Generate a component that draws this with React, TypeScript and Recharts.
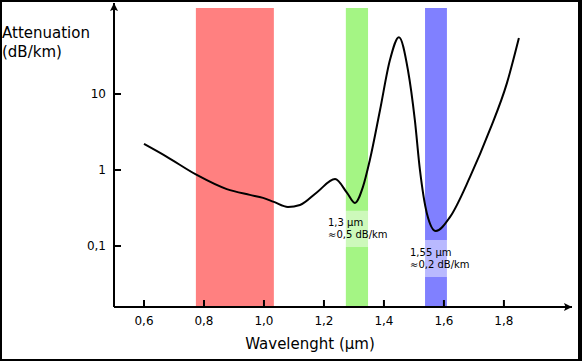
import { ComposedChart, Line, XAxis, YAxis, ReferenceArea } from 'recharts';

// fibre attenuation curve
const wavelength = [0.6, 0.675, 0.776, 0.876, 0.953, 0.997, 1.033, 1.08, 1.12, 1.177, 1.237, 1.277, 1.303, 1.33, 1.353, 1.387, 1.42, 1.45, 1.48, 1.503, 1.52, 1.543, 1.573, 1.62, 1.687, 1.753, 1.81, 1.85];
const attenuation = [2.2, 1.5, 0.86, 0.56, 0.47, 0.43, 0.38, 0.326, 0.346, 0.51, 0.76, 0.5, 0.368, 0.6, 1.35, 6.16, 28, 56, 20.7, 4.55, 1.0, 0.27, 0.157, 0.24, 0.81, 3.36, 13.9, 54.6];

const xTicks = [0.6, 0.8, 1.0, 1.2, 1.4, 1.6, 1.8];
const yTicks = [0.1, 1, 10];

// transmission windows
const bandStart = [0.773, 1.273, 1.537];
const bandEnd = [1.033, 1.347, 1.61];
const bandColor = ['#ff8080', '#a4f584', '#8080ff'];
const bandTop = 135;

// light patches behind the window notes
const noteStart = [1.24, 1.5];
const noteEnd = [1.46, 1.72];
const noteTop = [0.29, 0.12];
const noteBottom = [0.097, 0.039];

const X_DOMAIN = [0.5, 2.027];
const Y_DOMAIN = [0.01574, 157.5];

const data = wavelength.map((w, i) => ({ w, a: attenuation[i] }));
const comma = (v: number) => String(v).replace('.', ',');

const font = 'DejaVu Sans, sans-serif';

const XTick = ({ x, y, payload }: any) => (
  <g>
    <line x1={x} x2={x} y1={y} y2={y - 7} stroke="#000" strokeWidth={2} />
    <text x={x} y={y + 18} textAnchor="middle" fontSize={12} fontFamily={font} fill="#000">
      {comma(payload.value.toFixed(1))}
    </text>
  </g>
);

const YTick = ({ x, y, payload }: any) => (
  <g>
    <line x1={x} x2={x + 7} y1={y} y2={y} stroke="#000" strokeWidth={2} />
    <text x={x - 8} y={y + 4} textAnchor="end" fontSize={12} fontFamily={font} fill="#000">
      {comma(payload.value)}
    </text>
  </g>
);

export default function App() {
  return (
    <div style={{ position: 'absolute', left: 0, top: 0, width: 582, height: 361, background: '#fff' }}>
      <ComposedChart
        width={582}
        height={361}
        data={data}
        margin={{ top: 3, right: 10, left: 0, bottom: 0 }}
      >
        {bandStart.map((s, i) => (
          <ReferenceArea
            key={'b' + i}
            x1={s}
            x2={bandEnd[i]}
            y1={Y_DOMAIN[0]}
            y2={bandTop}
            fill={bandColor[i]}
            fillOpacity={1}
            stroke="none"
          />
        ))}
        {noteStart.map((s, i) => (
          <ReferenceArea
            key={'n' + i}
            x1={s}
            x2={noteEnd[i]}
            y1={noteBottom[i]}
            y2={noteTop[i]}
            fill="#fff"
            fillOpacity={0.45}
            stroke="none"
          />
        ))}
        <XAxis
          dataKey="w"
          type="number"
          domain={X_DOMAIN}
          allowDataOverflow
          ticks={xTicks}
          tick={<XTick />}
          tickLine={false}
          tickSize={0}
          tickMargin={0}
          height={54}
          axisLine={{ stroke: '#000', strokeWidth: 2, markerEnd: 'url(#arrowHead)' }}
        />
        <YAxis
          type="number"
          scale="log"
          domain={Y_DOMAIN}
          allowDataOverflow
          ticks={yTicks}
          tick={<YTick />}
          tickLine={false}
          tickSize={0}
          tickMargin={0}
          width={114}
          axisLine={{ stroke: '#000', strokeWidth: 2, markerStart: 'url(#arrowHead)' }}
        />
        <Line
          dataKey="a"
          type="monotone"
          stroke="#000"
          strokeWidth={2}
          dot={false}
          isAnimationActive={false}
        />
      </ComposedChart>
      <svg
        width={582}
        height={361}
        style={{ position: 'absolute', left: 0, top: 0, pointerEvents: 'none' }}
      >
        <defs>
          <marker
            id="arrowHead"
            viewBox="0 0 10 10"
            refX={10}
            refY={5}
            markerWidth={10}
            markerHeight={8}
            markerUnits="userSpaceOnUse"
            orient="auto-start-reverse"
          >
            <path d="M0,0 L10,5 L0,10 L2,5 z" fill="#000" />
          </marker>
        </defs>
        <g fontFamily={font} fill="#000">
          <text x={2} y={38} fontSize={15}>Attenuation</text>
          <text x={2} y={57} fontSize={15}>(dB/km)</text>
          <text x={310} y={349} fontSize={15} textAnchor="middle">Wavelenght (µm)</text>
          <text x={328} y={226} fontSize={10}>1,3 µm</text>
          <text x={328} y={238} fontSize={10}>≈0,5 dB/km</text>
          <text x={410} y={256} fontSize={10}>1,55 µm</text>
          <text x={410} y={268} fontSize={10}>≈0,2 dB/km</text>
        </g>
        <path d="M1,360 L1,1 L579.5,1" fill="none" stroke="#000" strokeWidth={2} />
        <line x1={580} y1={0} x2={580} y2={361} stroke="#000" strokeWidth={4} />
        <line x1={0} y1={360} x2={582} y2={360} stroke="#000" strokeWidth={2} />
      </svg>
    </div>
  );
}
